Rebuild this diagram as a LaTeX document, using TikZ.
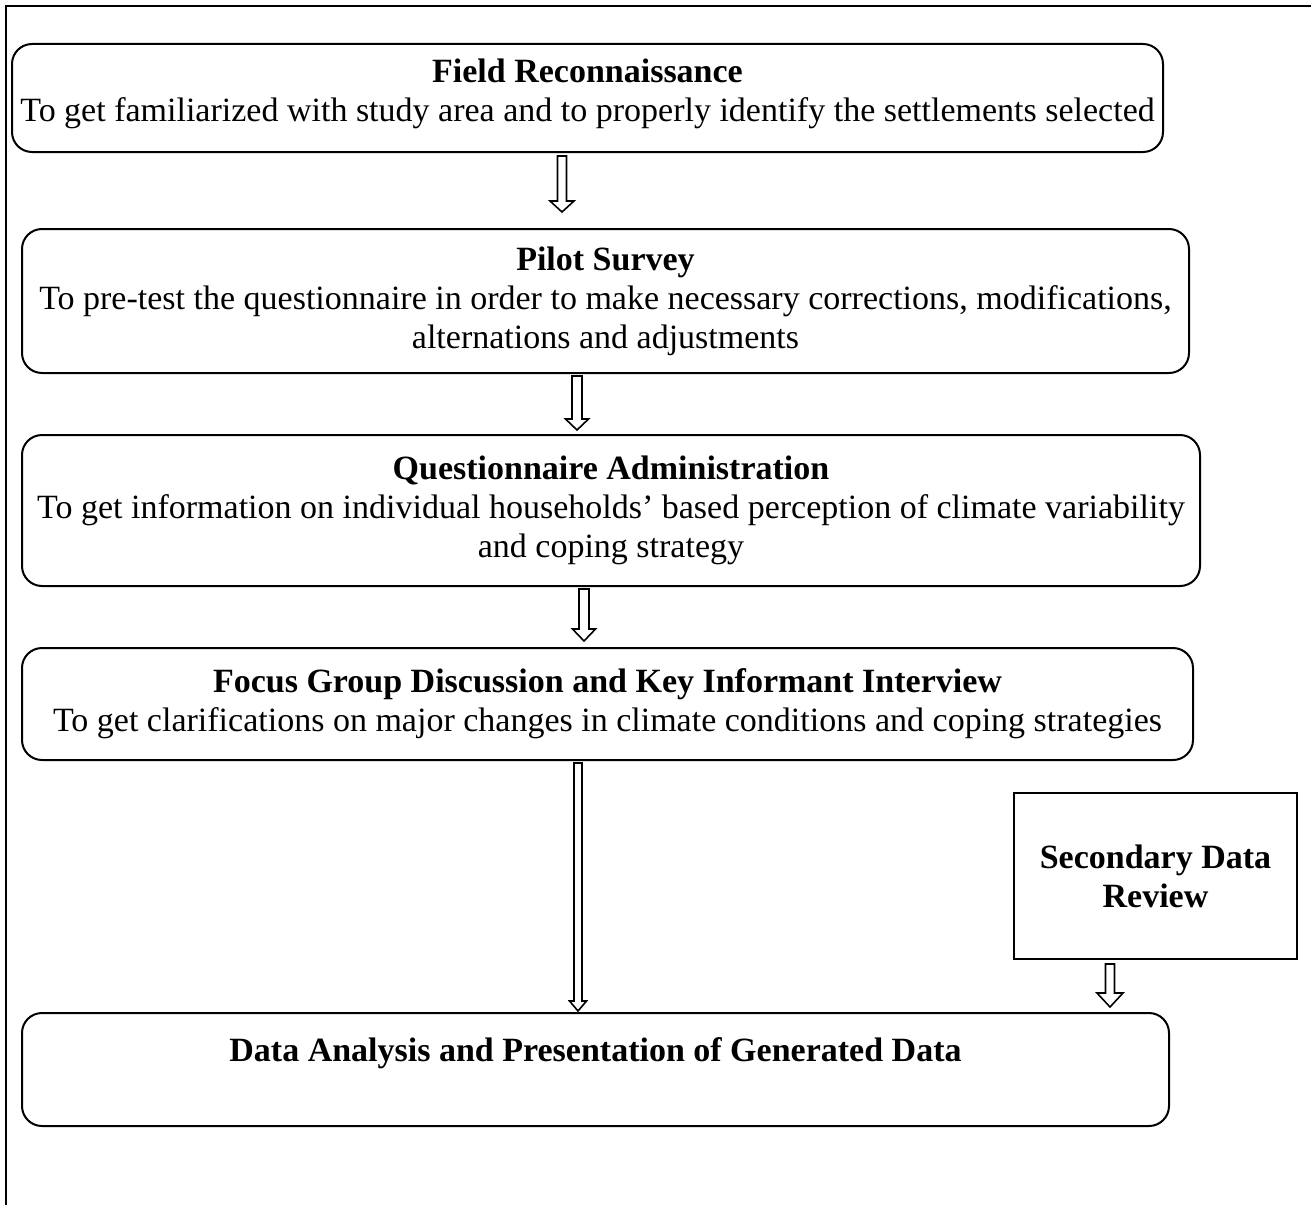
\documentclass[tikz,border=0pt]{standalone}
\usepackage{fontspec}
\setmainfont{Liberation Serif}
\usetikzlibrary{calc}
\tikzset{
 stage/.style={draw, line width=2pt, rounded corners=20pt, align=center, inner sep=1pt, font=\fontsize{34}{39}\selectfont},
 sidebox/.style={draw, line width=2pt, align=center, inner sep=1pt, font=\fontsize{34}{39}\selectfont\bfseries},
 blockarr/.style={draw, line width=1.6pt, fill=white, line join=miter},
 frameline/.style={line width=2.5pt},
}
\newcommand{\blockarrow}[5]{%
  \draw[blockarr] let \p1=(#1), \p2=(#2) in
   (\x1-#3,\y1) -- (\x1-#3,\y2+#5) -- (\x1-#4,\y2+#5) -- (\x1,\y2) -- (\x1+#4,\y2+#5) -- (\x1+#3,\y2+#5) -- (\x1+#3,\y1) -- cycle;}
\begin{document}
\begin{tikzpicture}[x=1pt,y=-1pt]
\useasboundingbox (0,0) rectangle (1311,1204);
\draw[frameline] (6,1215) -- (6,6) -- (1320,6);

\node[stage, minimum width=1151pt, minimum height=108pt] (b1) at (587.5,98)
 {{\bfseries Field Reconnaissance}\\To get familiarized with study area and to properly identify the settlements selected\\[-24pt]\mbox{}};
\node[stage, minimum width=1167pt, minimum height=144pt] (b2) at (605.5,301)
 {{\bfseries Pilot Survey}\\To pre-test the questionnaire in order to make necessary corrections, modifications,\\alternations and adjustments};
\node[stage, minimum width=1178pt, minimum height=151pt] (b3) at (611,510.5)
 {{\bfseries Questionnaire Administration}\\To get information on individual households’ based perception of climate variability\\and coping strategy};
\node[stage, minimum width=1171pt, minimum height=112pt] (b4) at (607.5,704)
 {{\bfseries Focus Group Discussion and Key Informant Interview}\\To get clarifications on major changes in climate conditions and coping strategies};
\node[stage, minimum width=1147pt, minimum height=113pt] (b5) at (595.5,1069.5)
 {{\bfseries Data Analysis and Presentation of Generated Data}\\\mbox{}};
\node[sidebox, minimum width=283pt, minimum height=166pt] (sec) at (1155.5,876)
 {Secondary Data\\Review};

\blockarrow{[xshift=-25.5pt,yshift=-3pt]b1.south}{[yshift=16pt]b2.north}{4.5pt}{12pt}{11pt}
\blockarrow{[xshift=-28.5pt,yshift=-2pt]b2.south}{[yshift=4pt]b3.north}{5pt}{11.5pt}{11pt}
\blockarrow{[xshift=-27pt,yshift=-2pt]b3.south}{[yshift=6pt]b4.north}{5pt}{11.5pt}{12pt}
\blockarrow{[xshift=-29.5pt,yshift=-2pt]b4.south}{[yshift=1pt]b5.north}{4pt}{8.5pt}{10pt}
\blockarrow{[xshift=-45.5pt,yshift=-4pt]sec.south}{[yshift=5pt]b5.north}{4.5pt}{13pt}{14pt}
\end{tikzpicture}
\end{document}
